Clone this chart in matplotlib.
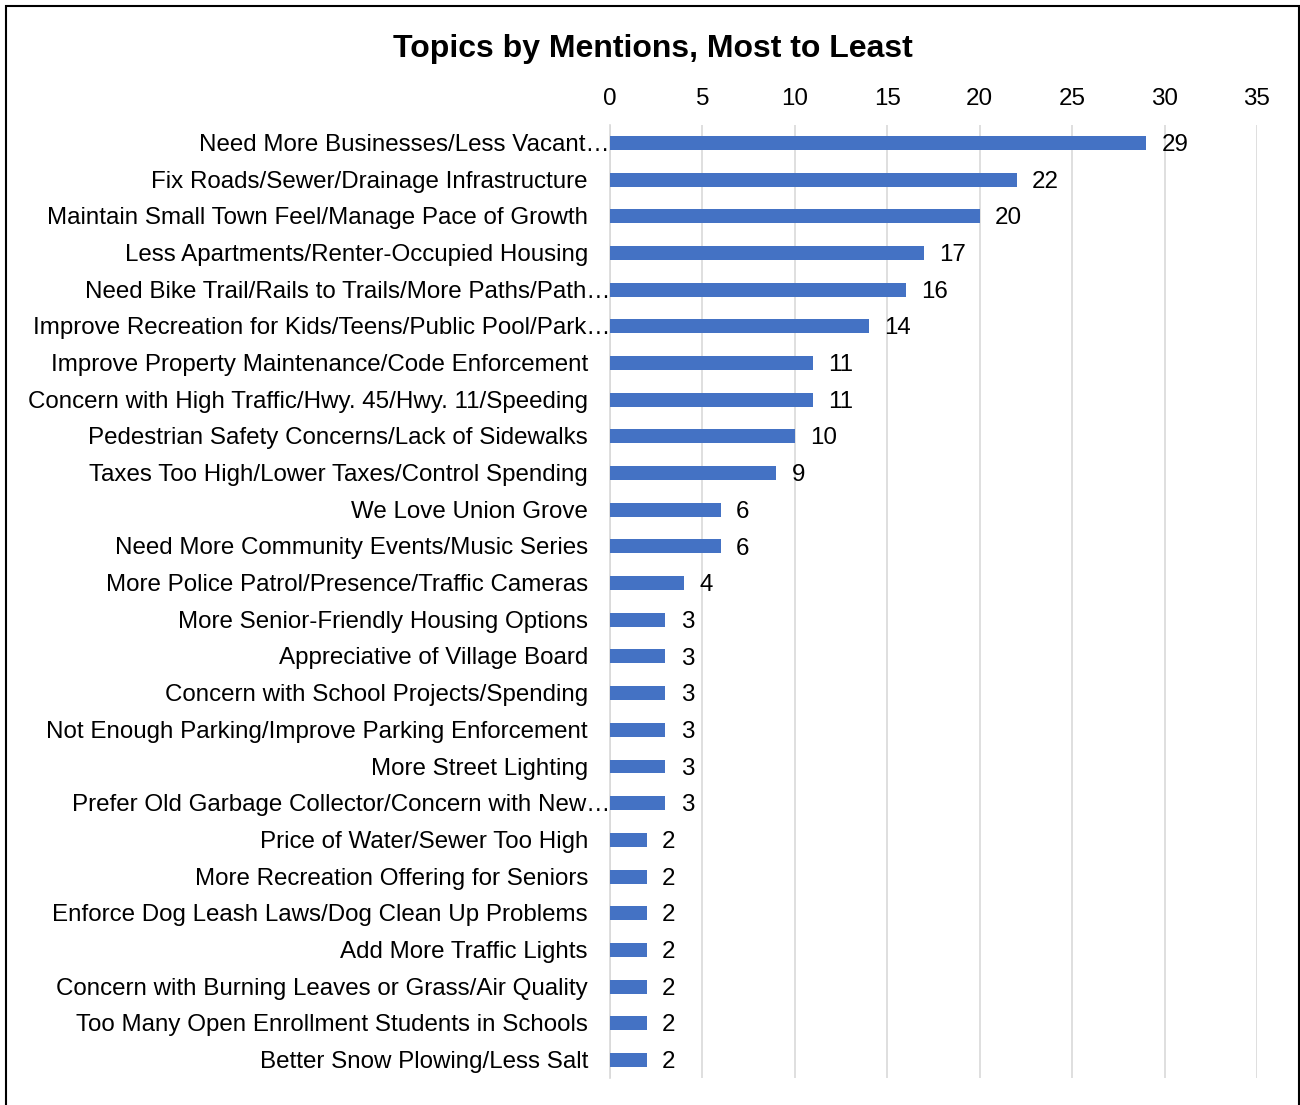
import matplotlib.pyplot as plt
from matplotlib.patches import Rectangle
from matplotlib.transforms import blended_transform_factory, offset_copy

plt.rcParams["font.family"] = ["Liberation Sans", "DejaVu Sans"]

# Topics and mention counts, most to least
topics = [
    "Need More Businesses/Less Vacant…",
    "Fix Roads/Sewer/Drainage Infrastructure",
    "Maintain Small Town Feel/Manage Pace of Growth",
    "Less Apartments/Renter-Occupied Housing",
    "Need Bike Trail/Rails to Trails/More Paths/Path…",
    "Improve Recreation for Kids/Teens/Public Pool/Park…",
    "Improve Property Maintenance/Code Enforcement",
    "Concern with High Traffic/Hwy. 45/Hwy. 11/Speeding",
    "Pedestrian Safety Concerns/Lack of Sidewalks",
    "Taxes Too High/Lower Taxes/Control Spending",
    "We Love Union Grove",
    "Need More Community Events/Music Series",
    "More Police Patrol/Presence/Traffic Cameras",
    "More Senior-Friendly Housing Options",
    "Appreciative of Village Board",
    "Concern with School Projects/Spending",
    "Not Enough Parking/Improve Parking Enforcement",
    "More Street Lighting",
    "Prefer Old Garbage Collector/Concern with New…",
    "Price of Water/Sewer Too High",
    "More Recreation Offering for Seniors",
    "Enforce Dog Leash Laws/Dog Clean Up Problems",
    "Add More Traffic Lights",
    "Concern with Burning Leaves or Grass/Air Quality",
    "Too Many Open Enrollment Students in Schools",
    "Better Snow Plowing/Less Salt",
]
mentions = [29, 22, 20, 17, 16, 14, 11, 11, 10, 9, 6, 6, 4,
            3, 3, 3, 3, 3, 3, 2, 2, 2, 2, 2, 2, 2]
x_ticks = [0, 5, 10, 15, 20, 25, 30, 35]

FS = 17.4

fig = plt.figure(figsize=(13, 11.05), dpi=100)
ax = fig.add_axes([0.4692, 0.0242, 0.4977, 0.8630])

ypos = list(range(len(topics)))
ax.barh(ypos, mentions, height=0.38, color="#4472C4", zorder=3)

ax.set_xlim(0, 35)
ax.set_ylim(len(topics) - 0.5, -0.5)
ax.set_xticks(x_ticks)
ax.xaxis.tick_top()
ax.tick_params(axis="x", length=0, pad=10.5, labelsize=FS)
ax.set_yticks([])

ax.grid(axis="x", color="#d9d9d9", linewidth=1.2, zorder=0)
for side in ["top", "right", "bottom"]:
    ax.spines[side].set_visible(False)
ax.spines["left"].set_color("#d9d9d9")
ax.spines["left"].set_linewidth(1.2)

# category labels, truncated ones hang a bit further right
trans = blended_transform_factory(ax.transAxes, ax.transData)
for y, name in zip(ypos, topics):
    if name.endswith("…"):
        t = offset_copy(trans, fig=fig, x=0, y=-2, units="dots")
    else:
        t = offset_copy(trans, fig=fig, x=-22, y=-2, units="dots")
    ax.text(0, y, name, transform=t, ha="right", va="center", fontsize=FS)

# value labels
for y, v in zip(ypos, mentions):
    ax.annotate(str(v), (v, y), xytext=(11, -1.5), textcoords="offset points",
                ha="left", va="center", fontsize=FS)

fig.text(0.502, 0.9555, "Topics by Mentions, Most to Least",
         ha="center", va="center", fontsize=23, fontweight="bold")

# chart border
fig.patches.append(Rectangle((6 / 1300, -0.01), 1293 / 1300, 1 - 6 / 1105 + 0.01,
                             transform=fig.transFigure, fill=False,
                             edgecolor="black", linewidth=1.5, clip_on=False))

plt.savefig("out.png", dpi=100)
plt.close()
